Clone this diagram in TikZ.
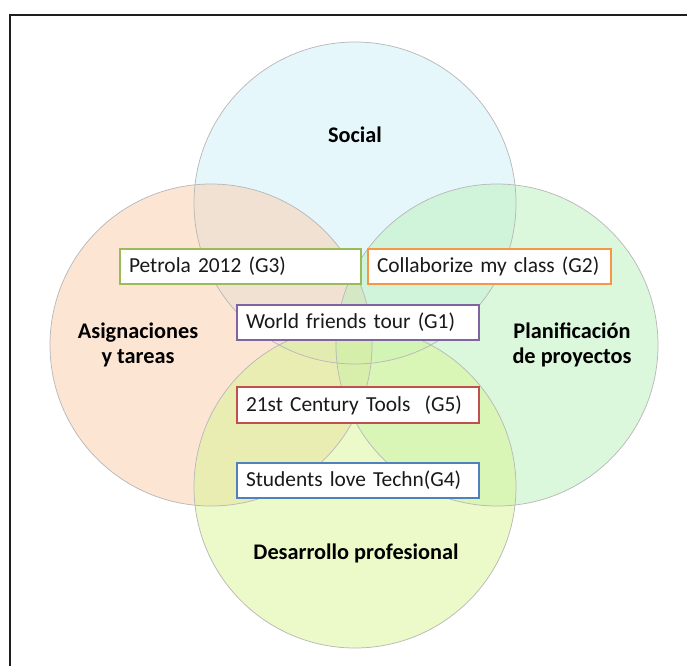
\documentclass[tikz,border=0pt]{standalone}
\usepackage{fontspec}
\setmainfont{Carlito}
\definecolor{socialC}{RGB}{205,239,249}
\definecolor{asigC}{RGB}{251,203,170}
\definecolor{planC}{RGB}{185,241,185}
\definecolor{desC}{RGB}{215,245,145}
\definecolor{ringC}{RGB}{185,185,185}
\definecolor{gThree}{RGB}{155,187,89}
\definecolor{gTwo}{RGB}{247,150,70}
\definecolor{gOne}{RGB}{128,100,162}
\definecolor{gFive}{RGB}{192,80,77}
\definecolor{gFour}{RGB}{79,129,189}
\definecolor{frameC}{RGB}{30,30,30}
\begin{document}
\begin{tikzpicture}[x=1pt,y=-1pt,
  setfill/.style={fill=#1,fill opacity=0.5,draw=none},
  ring/.style={draw=ringC,line width=0.75pt},
  biglabel/.style={font=\fontsize{22.3}{25.5}\selectfont\bfseries,align=center,text=black,inner sep=0pt},
  gbox/.style={draw=#1,line width=2.4pt,fill=white,minimum height=35pt,inner xsep=9pt,inner ysep=0pt,
    font=\fontsize{21.4}{25}\selectfont,align=left,text=black!90}]
\useasboundingbox (0,0) rectangle (687,666);
% frame
\coordinate (ftl) at (10,15);
\coordinate (ftr) at (687,15);
\coordinate (fbl) at (10,666);
\draw[frameC,line width=2pt] (ftr) -- (ftl) -- (fbl);
% circles
\coordinate (cs) at (355,203);
\coordinate (ca) at (211,345);
\coordinate (cp) at (497,345);
\coordinate (cd) at (355,487);
\fill[setfill=socialC] (cs) circle (161);
\fill[setfill=asigC] (ca) circle (161);
\fill[setfill=planC] (cp) circle (161);
\fill[setfill=desC] (cd) circle (161);
\draw[ring] (cs) circle (161);
\draw[ring] (ca) circle (161);
\draw[ring] (cp) circle (161);
\draw[ring] (cd) circle (161);
% labels
\node[biglabel] (social) at (355,135) {Social};
\node[biglabel] (asig) at (138,345) {Asignaciones\\y tareas};
\node[biglabel] (plan) at (572,345) {Planificación\\de proyectos};
\node[biglabel] (desa) at (356,553) {Desarrollo profesional};
% boxes
\node[gbox=gThree,text width=223pt] (g3) at (240.5,266.5) {Petrola 2012 (G3)};
\node[gbox=gTwo,text width=225pt] (g2) at (489.5,266.5) {Collaborize my class (G2)};
\node[gbox=gOne,text width=224pt] (g1) at (358,322.5) {World friends tour (G1)};
\node[gbox=gFive,text width=224pt,minimum height=36pt] (g5) at (358,405) {21st Century Tools\ \ (G5)};
\node[gbox=gFour,text width=224pt] (g4) at (358,480.5) {Students love Techn(G4)};
\end{tikzpicture}
\end{document}
